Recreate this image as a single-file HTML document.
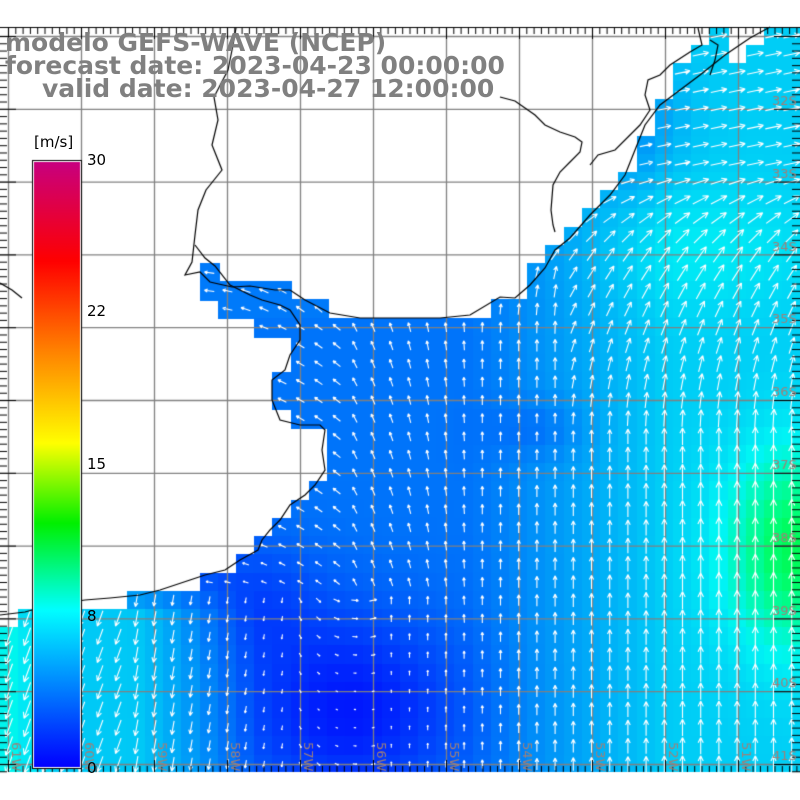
<!DOCTYPE html>
<html><head><meta charset="utf-8">
<style>
html,body{margin:0;padding:0;background:#fff;}
#wrap{position:relative;width:800px;height:800px;overflow:hidden;}
canvas{position:absolute;left:0;top:0;}
.t{position:absolute;font-family:"DejaVu Sans","Liberation Sans",sans-serif;font-weight:bold;font-size:25px;color:#808080;white-space:nowrap;line-height:24px;}
.cl{position:absolute;font-family:"DejaVu Sans","Liberation Sans",sans-serif;font-size:15px;color:#000;line-height:15px;}
</style></head><body>
<div id="wrap">
<canvas id="c" width="800" height="800"></canvas>
<div class="t" style="left:5px;top:31px;">modelo GEFS-WAVE (NCEP)</div>
<div class="t" style="left:5px;top:54px;">forecast date: 2023-04-23 00:00:00</div>
<div class="t" style="left:42px;top:77px;">valid date: 2023-04-27 12:00:00</div>
<div class="cl" style="left:34px;top:135px;">[m/s]</div>
<div class="cl" style="left:87px;top:153px;">30</div>
<div class="cl" style="left:87px;top:304px;">22</div>
<div class="cl" style="left:87px;top:457px;">15</div>
<div class="cl" style="left:87px;top:609px;">8</div>
<div class="cl" style="left:87px;top:761px;">0</div>
</div>
<script>
var c=document.getElementById('c'),g=c.getContext('2d');
var CS=18.2,Y0=27,YB=772;
var rows={27:[[710,728],[764,800]],45:[[691,727],[746,800]],63:[[673,800]],82:[[673,800]],100:[[655,800]],118:[[655,800]],136:[[637,800]],154:[[637,800]],172:[[619,800]],190:[[600,800]],209:[[582,800]],227:[[564,800]],245:[[545,800]],263:[[200,218],[527,800]],282:[[200,291],[527,800]],300:[[218,327],[492,800]],318:[[255,800]],336:[[291,800]],354:[[291,800]],372:[[273,800]],391:[[273,800]],409:[[291,800]],427:[[327,800]],445:[[327,800]],464:[[327,800]],482:[[309,800]],500:[[291,800]],518:[[273,800]],536:[[255,800]],555:[[237,800]],573:[[200,800]],591:[[127,800]],609:[[18,800]]};
function rowInt(y){var best=null,bd=1e9;for(var k in rows){var d=Math.abs(k-y);if(d<bd){bd=d;best=rows[k];}}return bd<6?best:[[0,800]];}
function cl(v,a,b){return v<a?a:v>b?b:v;}
function E(x,y,cx,cy,rx,ry){return Math.exp(-((x-cx)*(x-cx)/(rx*rx)+(y-cy)*(y-cy)/(ry*ry)));}
function speed(x,y){
 var s=3.8+2.9*cl((x-470)/200,0,1);
 s-=3.0*E(x,y,350,710,110,95);
 s-=1.4*E(x,y,250,600,70,60);
 s+=2.8*cl((260-x)/120,0,1)*cl((y-585)/30,0,1);
 s+=1.8*cl((60-x)/60,0,1)*cl((y-600)/30,0,1);
 s+=4.5*E(x,y,795,550,70,100);
 s+=1.0*E(x,y,700,250,120,60);
 s-=1.0*E(x,y,540,430,50,30);
 if(y<320&&x<340) s=4.0;
 if(y<260){ s-=1.5*E(x,y,640,120,50,70);}
 return cl(s,0.3,30);
}
function lerp(a,b,t){return [a[0]+(b[0]-a[0])*t,a[1]+(b[1]-a[1])*t,a[2]+(b[2]-a[2])*t];}
var st=[[0,[0,0,255]],[8,[0,245,245]],[10.5,[0,255,120]],[13,[0,240,0]],[15,[255,255,0]],[22,[255,120,0]],[25,[255,0,0]],[30,[200,0,128]]];
function col(s){for(var i=0;i<st.length-1;i++){if(s<=st[i+1][0]){var t=(s-st[i][0])/(st[i+1][0]-st[i][0]);return lerp(st[i][1],st[i+1][1],t);}}return st[st.length-1][1];}
function dir(x,y){
 if(y<320&&x<340) return 175-(x-200)*0.3;
 if(x>=480&&y<260){return y<170?12:12+(y-170)*0.5;}
 if(x>=480&&y<460){return Math.min(90,55+(y-260)*0.2+(x<560?20:0));}
 if(x<300&&y>585) return -100-(x<120?10:0);
 if(y>600&&x<450) return (x<380? -60+ (x-300): 90);
 if(x<480&&y<620){var a=90+Math.max(0,(480-x))*0.22; if(x<340) a+=20; return a;}
 return 90;
}
var px=[];
for(var y=Y0;y<YB;y+=CS){
 var ints=rowInt(Math.round(y));
 for(var x=0;x<800;x+=CS){
  var cx=x+CS/2,cy=y+CS/2,ok=false;
  for(var k=0;k<ints.length;k++){if(cx>=ints[k][0]&&cx<=ints[k][1]+2)ok=true;}
  if(!ok)continue;
  var s=speed(cx,cy),cc=col(s);
  g.fillStyle='rgb('+(cc[0]|0)+','+(cc[1]|0)+','+(cc[2]|0)+')';
  g.fillRect(Math.floor(x),Math.floor(y),Math.ceil(CS)+1,Math.min(Math.ceil(CS)+1,YB-Math.floor(y)));
  px.push([cx,cy,s]);
 }
}
g.strokeStyle='#808080';g.lineWidth=1.3;
for(var i=0;i<11;i++){var gx=8.5+73*i;g.beginPath();g.moveTo(gx,27);g.lineTo(gx,772);g.stroke();}
for(var i=0;i<11;i++){var gy=36.5+72.8*i;g.beginPath();g.moveTo(0,gy);g.lineTo(800,gy);g.stroke();}
g.strokeStyle='#fff';g.lineWidth=1.1;
px.forEach(function(p){
 var a=dir(p[0],p[1])*Math.PI/180,L=Math.min(20,p[2]*2.5);
 if(L<2){g.fillStyle='#fff';g.fillRect(p[0]-1,p[1]-1,2,2);return;}
 var dx=Math.cos(a)*L/2,dy=-Math.sin(a)*L/2;
 var hx=p[0]+dx,hy=p[1]+dy;
 g.beginPath();g.moveTo(p[0]-dx,p[1]-dy);g.lineTo(hx,hy);
 var h=L*0.35;
 [0.45,-0.45].forEach(function(o){g.moveTo(hx,hy);g.lineTo(hx-Math.cos(a+o)*h,hy+Math.sin(a+o)*h);});
 g.stroke();
});
g.strokeStyle='#000';g.lineWidth=1.2;
function pl(a){g.beginPath();g.moveTo(a[0],a[1]);for(var i=2;i<a.length;i+=2)g.lineTo(a[i],a[i+1]);g.stroke();}
pl([236,28,232,50,228,70,214,97,218,120,212,145,222,170,206,190,198,210,195,235,192,262,185,275,200,272,210,282,232,287,250,286,275,290,290,290,305,300,330,313,360,318,400,318,440,318,470,315,500,297,515,298,530,285,545,268,555,250,570,238,590,215,610,195,625,175,635,150,645,125,660,105,680,90,700,75,725,55,750,38,770,27]);
pl([195,245,205,258,215,266,230,285,250,295,262,300,280,305,290,310,300,325,300,340,290,355,285,370,272,380,272,400,280,420,300,425,320,425,325,430,322,450,325,470,315,485,305,495,290,505,280,520,270,530,262,540,258,550,240,560,225,570,205,575,190,580,160,590,140,595,110,598,85,600,50,605,25,612,0,615]);
pl([0,283,12,290,22,298]);
pl([698,28,702,45,690,52,670,65,660,75,648,80,645,95,650,110,640,125,630,135,615,150,598,155,590,165]);
pl([500,97,515,101,525,108,535,115,545,125,560,132,575,137,582,142,580,152,570,162,560,172,553,185,551,210,553,225,555,232]);
pl([710,40,718,45,715,60,710,75]);
g.strokeStyle='#000';g.lineWidth=1;
for(var x=8.5;x<800;x+=7.3){var big=Math.abs(((x-8.5)/73)-Math.round((x-8.5)/73))<0.02;var l=big?12:6;
 g.beginPath();g.moveTo(x,772);g.lineTo(x,772-l);g.moveTo(x,27);g.lineTo(x,27+(big?12:7));g.stroke();}
g.beginPath();g.moveTo(0,27.5);g.lineTo(800,27.5);g.stroke();
for(var y=36.5;y<772;y+=7.28){var big=Math.abs(((y-36.5)/72.8)-Math.round((y-36.5)/72.8))<0.02;var l=big?16:7;
 g.beginPath();g.moveTo(0,y);g.lineTo(l,y);g.moveTo(800,y);g.lineTo(800-(big?26:8),y);g.stroke();}
g.fillStyle='#000';g.fillRect(32,160,50,609);
g.fillStyle='#fff';g.fillRect(33,161,48,607);
var gr=g.createLinearGradient(0,162,0,767);
gr.addColorStop(0,'#c8007f');gr.addColorStop(0.164,'#ff0000');gr.addColorStop(0.31,'#ff8000');gr.addColorStop(0.465,'#ffff00');gr.addColorStop(0.597,'#00f000');gr.addColorStop(0.74,'#00ffff');gr.addColorStop(1,'#0000ff');
g.fillStyle=gr;g.fillRect(34,162,46,605);
g.fillStyle='#a08078';g.font='13px "DejaVu Sans","Liberation Sans",sans-serif';
var lat=['32S','33S','34S','35S','36S','37S','38S','39S','40S','41S'];
for(var i=0;i<10;i++){g.fillText(lat[i],772,105+72.8*i);}
var lon=['61W','60W','59W','58W','57W','56W','55W','54W','53W','52W','51W'];
for(var i=0;i<11;i++){g.save();g.translate(8.5+73*i+3,742);g.rotate(Math.PI/2);g.fillText(lon[i],0,0);g.restore();}
</script>
</body></html>
